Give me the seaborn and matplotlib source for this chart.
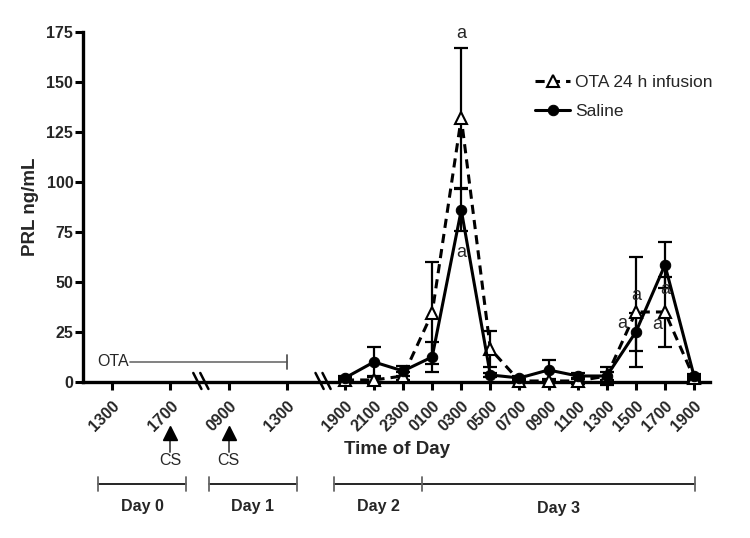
import matplotlib
matplotlib.use("Agg")
import matplotlib.pyplot as plt
import seaborn as sns

# x positions: one unit = one 2 h step on the plotted time axis
tick_pos = [1, 3, 5, 7, 9, 10, 11, 12, 13, 14, 15, 16, 17, 18, 19, 20, 21]
tick_labels = ['1300', '1700', '0900', '1300', '1900', '2100', '2300', '0100', '0300',
               '0500', '0700', '0900', '1100', '1300', '1500', '1700', '1900']

# sampling times Day 2 1900 -> Day 3 1900
sample_pos = [9, 10, 11, 12, 13, 14, 15, 16, 17, 18, 19, 20, 21]
ota_mean = [1, 1, 3, 34.5, 132, 16.5, 0.5, 0.5, 0.5, 3, 35, 35, 2]
ota_sem = [1, 2, 2, 25.5, 35, 9, 1, 1, 1.5, 2, 27.5, 17.5, 1]
saline_mean = [2, 10, 5.5, 12.5, 86, 3.5, 2, 6, 3, 3, 25, 58.5, 3]
saline_sem = [1, 7.5, 2.5, 7.5, 10.5, 1, 1, 5, 1.5, 4.5, 9.5, 11.5, 1]

# significance letters (x, y)
sig_x = [13, 13, 19, 18.52, 20, 19.73]
sig_y = [174.5, 64.5, 43, 29, 46, 28.5]

# day brackets
day_names = ['Day 0', 'Day 1', 'Day 2', 'Day 3']
day_start = [0.52, 4.33, 8.63, 11.65]
day_end = [3.54, 7.35, 11.65, 21.05]

cs_pos = [3, 5]
break_pos = [4.05, 8.25]

sns.set_style("ticks")
plt.rcParams['font.family'] = ['Liberation Sans', 'DejaVu Sans']

fig = plt.figure(figsize=(7.5, 5.38), dpi=100)
ax = fig.add_axes([0.1107, 0.290, 0.836, 0.6505])

# error bars
ax.errorbar(sample_pos, ota_mean, yerr=ota_sem, fmt='none', ecolor='black',
            elinewidth=1.6, capsize=5, capthick=1.6, zorder=2, clip_on=False)
ax.errorbar(sample_pos, saline_mean, yerr=saline_sem, fmt='none', ecolor='black',
            elinewidth=1.6, capsize=5, capthick=1.6, zorder=2, clip_on=False)

# series
sns.lineplot(x=sample_pos, y=ota_mean, ax=ax, color='black', linestyle=(0, (3, 2)),
             linewidth=2.2, marker='^', markersize=8, markerfacecolor='white',
             markeredgecolor='black', markeredgewidth=1.5, label='OTA 24 h infusion', zorder=3)
sns.lineplot(x=sample_pos, y=saline_mean, ax=ax, color='black', linewidth=2.2,
             marker='o', markersize=7.5, markeredgecolor='black',
             label='Saline', zorder=4)
for ln in ax.lines:
    ln.set_clip_on(False)

ax.set_xlim(0, 21.55)
ax.set_ylim(0, 175)
ax.set_yticks(range(0, 176, 25))
ax.set_xticks(tick_pos)
ax.set_xticklabels(tick_labels, rotation=45, ha='right', rotation_mode='anchor')
for lab in ax.get_xticklabels() + ax.get_yticklabels():
    lab.set_fontweight('bold')
    lab.set_fontsize(11.5)
ax.tick_params(width=2.2, length=6, color='black', pad=1)
ax.tick_params(axis='x', pad=6)
for s in ['left', 'bottom']:
    ax.spines[s].set_linewidth(2.4)
    ax.spines[s].set_color('black')
sns.despine(ax=ax)

ax.set_ylabel('PRL ng/mL', fontsize=13.5, fontweight='bold', labelpad=5)
ax.set_xlabel('Time of Day', fontsize=13.5, fontweight='bold')
ax.xaxis.set_label_coords(0.5, -0.17)

# axis breaks
for bx in break_pos:
    for off in (-0.12, 0.12):
        ax.plot([bx + off - 0.14, bx + off + 0.14], [4.5, -3.5], color='black',
                lw=1.8, clip_on=False, zorder=5)

# OTA infusion bar
ax.text(0.48, 10, 'OTA', fontsize=11.5, va='center', ha='left')
ax.plot([1.62, 7], [10, 10], color='#777777', lw=1.3, clip_on=False)
ax.plot([7, 7], [6.7, 13.3], color='#555555', lw=1.3, clip_on=False)

# CS arrows
for cx in cs_pos:
    ax.plot([cx, cx], [-28, -35], color='#555555', lw=1.4, clip_on=False)
    ax.plot([cx], [-25.5], marker='^', markersize=9.5, color='black', clip_on=False)
    ax.text(cx, -39.5, 'CS', fontsize=11.5, ha='center', va='center')

# day brackets
for name, a, b in zip(day_names, day_start, day_end):
    ax.plot([a, b], [-51, -51], color='black', lw=1.2, clip_on=False)
    ax.text((a + b) / 2, -62.5 if name != 'Day 3' else -63.5, name, fontsize=11.5,
            fontweight='bold', ha='center', va='center')
for e in sorted(set(day_start + day_end)):
    ax.plot([e, e], [-47.5, -54.5], color='#666666', lw=1.3, clip_on=False)

# significance letters
for sx, sy in zip(sig_x, sig_y):
    ax.text(sx, sy, 'a', fontsize=13, ha='center', va='center')

ax.legend(loc='upper left', bbox_to_anchor=(0.693, 0.889), bbox_transform=fig.transFigure,
          frameon=False, fontsize=12.5, handlelength=2.0, handletextpad=0.3,
          labelspacing=0.75)

fig.savefig('out.png', dpi=100)
